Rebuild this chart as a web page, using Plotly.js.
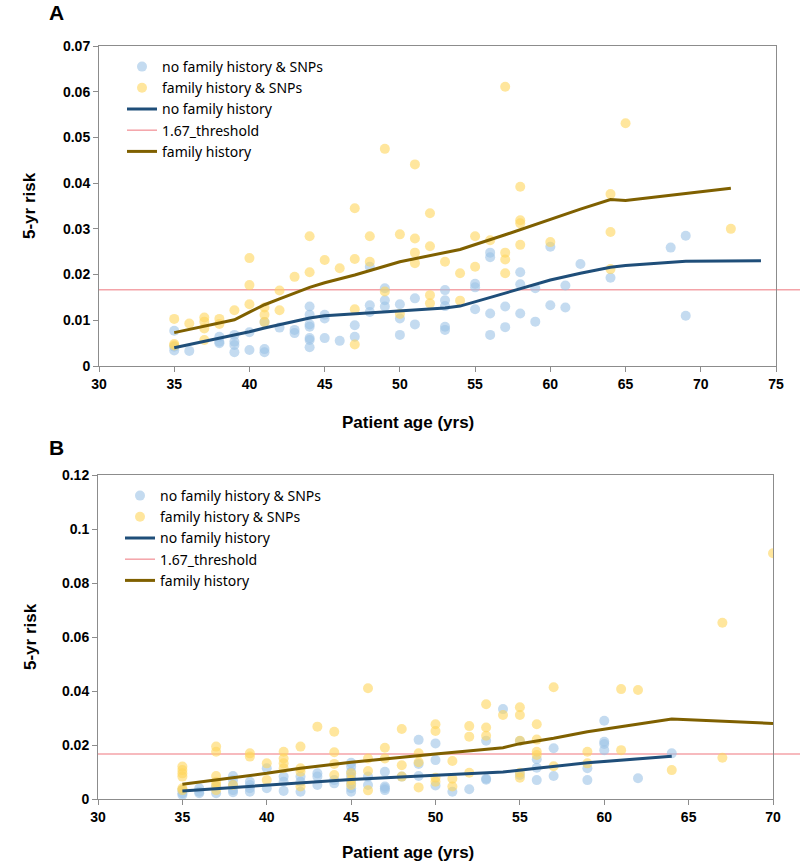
<!DOCTYPE html>
<html>
<head>
<meta charset="utf-8">
<script src="https://cdn.plot.ly/plotly-3.0.1.min.js"></script>
<style>html,body{margin:0;padding:0;background:#fff;}#chart{width:800px;height:866px;}</style>
</head>
<body>
<div id="chart"></div>
<script>
// ---------- Panel A data ----------
var aBlueAges = [35,36,38,39,40,41,42,43,44,45,46,47,48,49,50,51,53,55,56,57,58,59,60,61,62,64,68,69];
var aBlueRisks = [
  [0.0077,0.0042,0.0034],[0.0033],[0.0064,0.0053,0.0050],[0.0068,0.0053,0.0046,0.0030],
  [0.0074,0.0035],[0.0096,0.0037,0.0030],[0.0084],[0.0079,0.0072],
  [0.0130,0.0112,0.0091,0.0086,0.0061,0.0057,0.0041],[0.0112,0.0104,0.0061],[0.0055],
  [0.0089,0.0064],[0.0217,0.0133,0.0118],[0.0170,0.0144,0.0130],[0.0135,0.0104,0.0068],
  [0.0148,0.0091],[0.0166,0.0144,0.0131,0.0086,0.0079],[0.0180,0.0172,0.0124],
  [0.0248,0.0238,0.0115,0.0068],[0.0130,0.0085],[0.0205,0.0179,0.0115],[0.0170,0.0097],
  [0.0261,0.0133],[0.0176,0.0128],[0.0223],[0.0193],[0.0259],[0.0285,0.0110]
];
var aGoldAges = [35,36,37,38,39,40,41,42,43,44,45,46,47,48,49,50,51,52,53,54,55,56,57,58,60,64,65,72];
var aGoldRisks = [
  [0.0103,0.0048,0.0045],[0.0093],[0.0106,0.0097,0.0082,0.0057],[0.0103,0.0092],[0.0122],
  [0.0236,0.0177,0.0135],[0.0128,0.0112,0.0096],[0.0165,0.0122],[0.0195],[0.0284,0.0205],
  [0.0232],[0.0214],[0.0345,0.0234,0.0124,0.0047],[0.0284,0.0228],[0.0475,0.0163],
  [0.0288,0.0114],[0.0441,0.0279,0.0248,0.0225],[0.0334,0.0262,0.0155,0.0137],[0.0228],
  [0.0203,0.0143],[0.0284,0.0217],[0.0275],[0.0611,0.0248,0.0233,0.0203],
  [0.0392,0.0319,0.0312,0.0265],[0.0271],[0.0376,0.0293,0.0212],[0.0531],[0.0300]
];
var aNoFHLineAge  = [35,36,37,38,39,40,41,42,43,44,45,47,50,53,54,56,58,60,62,64,65,69,74];
var aNoFHLineRisk = [0.0040,0.0047,0.0054,0.0060,0.0067,0.0075,0.0083,0.0090,0.0098,0.0105,0.0110,0.0114,0.0120,0.0127,0.0131,0.0150,0.0170,0.0188,0.0203,0.0216,0.0220,0.0229,0.0230];
var aFHLineAge  = [35,36,37,38,39,40,41,42,43,44,45,47,50,54,57,60,62,64,65,72];
var aFHLineRisk = [0.0073,0.0080,0.0087,0.0094,0.0101,0.0118,0.0134,0.0147,0.0160,0.0172,0.0182,0.0199,0.0228,0.0255,0.0287,0.0321,0.0343,0.0364,0.0362,0.0389];

// ---------- Panel B data ----------
var bBlueAges = [35,36,37,38,39,40,41,42,43,44,45,46,47,48,49,50,51,52,53,54,55,56,57,59,60,62,64];
var bBlueRisks = [
  [0.0033,0.0021,0.0015],[0.0040,0.0027,0.0021],[0.0046,0.0021],[0.0085,0.0070,0.0052,0.0033,0.0025],
  [0.0064,0.0052,0.0040,0.0027],[0.0114,0.0040],[0.0083,0.0064,0.0030],[0.0083,0.0064,0.0027],
  [0.0095,0.0083,0.0052],[0.0070,0.0058],[0.0134,0.0120,0.0101,0.0083,0.0058,0.0040,0.0027],
  [0.0083,0.0052],[0.0101,0.0046,0.0040,0.0033],[0.0083],[0.0219,0.0130,0.0085],
  [0.0206,0.0144,0.0050],[0.0027],[0.0036],[0.0216,0.0075,0.0071],[0.0333],[0.0215,0.0089],
  [0.0147,0.0116,0.0070],[0.0188,0.0085],[0.0114,0.0070],[0.0290,0.0212,0.0204,0.0181],[0.0077],[0.0169]
];
var bGoldAges = [35,37,38,39,40,41,42,43,44,45,46,47,48,49,50,51,52,53,54,55,56,57,59,61,62,64,67,70];
var bGoldRisks = [
  [0.0120,0.0107,0.0095,0.0083,0.0040,0.0033],[0.0194,0.0175,0.0085,0.0064,0.0052,0.0033],[0.0052],
  [0.0169,0.0157],[0.0132,0.0070],[0.0175,0.0150,0.0132,0.0114],[0.0194,0.0114,0.0101,0.0046],
  [0.0268],[0.0249,0.0173,0.0130,0.0089],[0.0095,0.0070,0.0052],[0.0410,0.0150,0.0104,0.0032],
  [0.0190,0.0150],[0.0259,0.0125,0.0083],[0.0169,0.0136,0.0043],[0.0277,0.0252,0.0079,0.0064],
  [0.0141,0.0075,0.0046],[0.0270,0.0231,0.0097],[0.0351,0.0265,0.0234],[0.0311],
  [0.0340,0.0311,0.0216,0.0097,0.0079],[0.0277,0.0220,0.0175,0.0163],[0.0414,0.0121],
  [0.0175,0.0132],[0.0407,0.0181],[0.0404],[0.0107],[0.0653,0.0153],[0.0910]
];
var bNoFHLineAge  = [35,36,37,38,40,42,45,50,53,54,56,59,64];
var bNoFHLineRisk = [0.0030,0.0034,0.0038,0.0042,0.0050,0.0060,0.0072,0.0088,0.0096,0.0100,0.0114,0.0134,0.0158];
var bFHLineAge  = [35,40,42,45,50,54,55,57,59,64,70];
var bFHLineRisk = [0.0055,0.0095,0.0114,0.0136,0.0167,0.0190,0.0205,0.0225,0.0249,0.0296,0.0280];

var threshold = 0.0167;
var seriesNames = ["no family history & SNPs","family history & SNPs","no family history","1.67_threshold","family history"];
var xTitle = "Patient age (yrs)";
var yTitle = "5-yr risk";

// ---------- helpers ----------
function flatten(ages, risks){
  var x=[], y=[];
  for (var i=0;i<ages.length;i++){ for (var j=0;j<risks[i].length;j++){ x.push(ages[i]); y.push(risks[i][j]); } }
  return {x:x,y:y};
}
var blueC = 'rgb(157,195,230)', goldC = 'rgb(255,213,92)';
var navy = '#1F4E79', brown = '#7F6000', pink = '#F4A3A8';

function panel(xa, ya, lg, blueA, blueR, goldA, goldR, nAge, nRisk, fAge, fRisk){
  var b = flatten(blueA, blueR), g = flatten(goldA, goldR);
  return [
    {type:'scatter', mode:'markers', x:b.x, y:b.y, xaxis:xa, yaxis:ya, legend:lg, name:seriesNames[0],
     marker:{color:blueC, size:10, opacity:0.6}},
    {type:'scatter', mode:'markers', x:g.x, y:g.y, xaxis:xa, yaxis:ya, legend:lg, name:seriesNames[1],
     marker:{color:goldC, size:10, opacity:0.6}},
    {type:'scatter', mode:'lines', x:nAge, y:nRisk, xaxis:xa, yaxis:ya, legend:lg, name:seriesNames[2],
     line:{color:navy, width:3}},
    {type:'scatter', mode:'lines', x:[null], y:[null], xaxis:xa, yaxis:ya, legend:lg, name:seriesNames[3],
     line:{color:pink, width:1.5}},
    {type:'scatter', mode:'lines', x:fAge, y:fRisk, xaxis:xa, yaxis:ya, legend:lg, name:seriesNames[4],
     line:{color:brown, width:3}}
  ];
}

var data = panel('x','y','legend', aBlueAges,aBlueRisks,aGoldAges,aGoldRisks,aNoFHLineAge,aNoFHLineRisk,aFHLineAge,aFHLineRisk)
  .concat(panel('x2','y2','legend2', bBlueAges,bBlueRisks,bGoldAges,bGoldRisks,bNoFHLineAge,bNoFHLineRisk,bFHLineAge,bFHLineRisk));

var W=800, H=866;
var tickFont = {family:'Liberation Sans, Arial, sans-serif', size:14, color:'#000', weight:'bold'};
function xaxisDef(d, anchor, r, dt){
  return {domain:d, anchor:anchor, range:r, dtick:dt, tick0:30, showgrid:false, zeroline:false,
    showline:true, linecolor:'#8c8c8c', linewidth:1, mirror:true, ticks:'outside', ticklen:5,
    tickcolor:'#8c8c8c', tickfont:tickFont, fixedrange:true};
}
function yaxisDef(d, anchor, r, dt){
  return {domain:d, anchor:anchor, range:r, dtick:dt, tick0:0, showgrid:false, zeroline:false,
    showline:true, linecolor:'#8c8c8c', linewidth:1, mirror:true, ticks:'outside', ticklen:5,
    tickcolor:'#8c8c8c', tickfont:tickFont, fixedrange:true};
}
var legFont = {family:'Noto Sans, Open Sans, sans-serif', size:14, color:'#000'};
var titleFont = {family:'Liberation Sans, Arial, sans-serif', size:17, color:'#000', weight:'bold'};
var panelFont = {family:'Liberation Sans, Arial, sans-serif', size:21, color:'#000', weight:'bold'};

var layout = {
  width:W, height:H, margin:{l:0,r:0,t:0,b:0}, paper_bgcolor:'#fff', plot_bgcolor:'#fff',
  showlegend:true,
  xaxis: xaxisDef([99/W, 776/W], 'y', [30,75], 5),
  yaxis: yaxisDef([1-366/H, 1-46/H], 'x', [0,0.07], 0.01),
  xaxis2: xaxisDef([98/W, 773/W], 'y2', [30,70], 5),
  yaxis2: yaxisDef([1-799/H, 1-475/H], 'x2', [0,0.12], 0.02),
  legend: {x:122/W, y:1-51/H, xanchor:'left', yanchor:'top', bgcolor:'rgba(0,0,0,0)', font:legFont, tracegroupgap:0},
  legend2: {x:120/W, y:1-480/H, xanchor:'left', yanchor:'top', bgcolor:'rgba(0,0,0,0)', font:legFont, tracegroupgap:0},
  shapes: [
    {type:'line', xref:'paper', yref:'y', x0:99/W, x1:1, y0:threshold, y1:threshold, line:{color:pink, width:1.5}, layer:'below'},
    {type:'line', xref:'paper', yref:'y2', x0:98/W, x1:1, y0:threshold, y1:threshold, line:{color:pink, width:1.5}, layer:'below'}
  ],
  annotations: [
    {text:'A', xref:'paper', yref:'paper', x:57/W, y:1-13/H, showarrow:false, font:panelFont, xanchor:'center', yanchor:'middle'},
    {text:'B', xref:'paper', yref:'paper', x:57/W, y:1-447/H, showarrow:false, font:panelFont, xanchor:'center', yanchor:'middle'},
    {text:yTitle, xref:'paper', yref:'paper', x:30/W, y:1-206/H, textangle:-90, showarrow:false, font:titleFont, xanchor:'center', yanchor:'middle'},
    {text:yTitle, xref:'paper', yref:'paper', x:30/W, y:1-637/H, textangle:-90, showarrow:false, font:titleFont, xanchor:'center', yanchor:'middle'},
    {text:xTitle, xref:'paper', yref:'paper', x:408/W, y:1-422/H, showarrow:false, font:titleFont, xanchor:'center', yanchor:'middle'},
    {text:xTitle, xref:'paper', yref:'paper', x:408/W, y:1-852/H, showarrow:false, font:titleFont, xanchor:'center', yanchor:'middle'}
  ]
};

Plotly.newPlot('chart', data, layout, {displayModeBar:false, staticPlot:true});
</script>
</body>
</html>
